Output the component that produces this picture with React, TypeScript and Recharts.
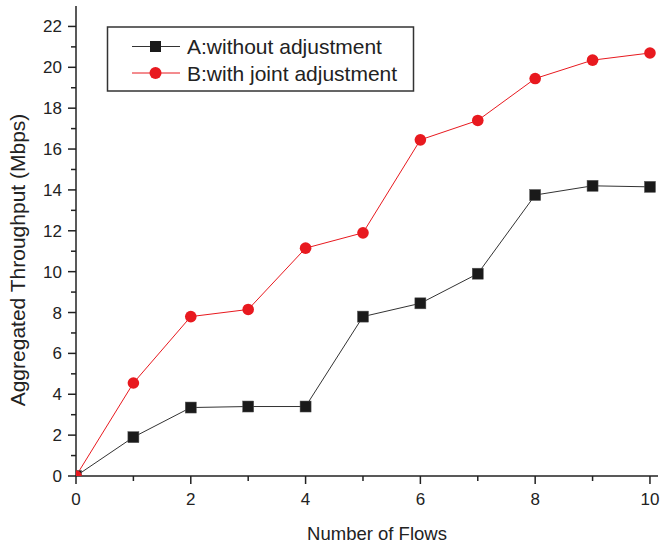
import { LineChart, Line, XAxis, YAxis } from "recharts";

const flows = [0, 1, 2, 3, 4, 5, 6, 7, 8, 9, 10];
const withoutAdj = [0, 1.9, 3.35, 3.4, 3.4, 7.8, 8.45, 9.9, 13.75, 14.2, 14.15];
const jointAdj = [0, 4.55, 7.8, 8.15, 11.15, 11.9, 16.45, 17.4, 19.45, 20.35, 20.7];
const xTicks = [0, 1, 2, 3, 4, 5, 6, 7, 8, 9, 10];
const yTicks = [0, 1, 2, 3, 4, 5, 6, 7, 8, 9, 10, 11, 12, 13, 14, 15, 16, 17, 18, 19, 20, 21, 22];
const seriesNames = ["A:without adjustment", "B:with joint adjustment"];

const data = flows.map((f, i) => ({ flows: f, a: withoutAdj[i], b: jointAdj[i] }));

const FONT = "'Liberation Sans', Arial, sans-serif";
const AXIS = "#222";
const RED = "#e8191f";
const BLACK_LINE = "#333";

function XTick(props: any) {
  const { x, y, payload } = props;
  const major = payload.value % 2 === 0;
  return (
    <g>
      <line x1={x} x2={x} y1={y} y2={y + (major ? 8 : 5)} stroke={AXIS} strokeWidth={1.5} />
      {major && (
        <text x={x} y={y + 29} textAnchor="middle" fontSize={17} fontFamily={FONT} fill={AXIS}>
          {payload.value}
        </text>
      )}
    </g>
  );
}

function YTick(props: any) {
  const { x, y, payload } = props;
  const major = payload.value % 2 === 0;
  return (
    <g>
      <line x1={x} x2={x - (major ? 8 : 5)} y1={y} y2={y} stroke={AXIS} strokeWidth={1.5} />
      {major && (
        <text x={x - 14} y={y + 6} textAnchor="end" fontSize={17} fontFamily={FONT} fill={AXIS}>
          {payload.value}
        </text>
      )}
    </g>
  );
}

function Square(props: any) {
  const { cx, cy, index } = props;
  return <rect key={"s" + index} x={cx - 5.5} y={cy - 5.5} width={11} height={11} fill="#1a1a1a" stroke="#555" strokeWidth={0.5} />;
}

function Circle(props: any) {
  const { cx, cy, index } = props;
  return <circle key={"c" + index} cx={cx} cy={cy} r={5.8} fill={RED} />;
}

function LegendBox() {
  return (
    <svg width={310} height={68} style={{ position: "absolute", left: 106, top: 25 }}>
      <rect x={1.5} y={2} width={306} height={64} fill="#fff" stroke="#333" strokeWidth={1.5} />
      {seriesNames.map((name, i) => {
        const cy = 21.5 + i * 26.5;
        return (
          <g key={name}>
            <line x1={26} x2={74} y1={cy} y2={cy} stroke={i === 0 ? BLACK_LINE : RED} strokeWidth={1} />
            {i === 0 ? (
              <rect x={44} y={cy - 5.5} width={11} height={11} fill="#1a1a1a" />
            ) : (
              <circle cx={49.5} cy={cy} r={6} fill={RED} />
            )}
            <text x={81} y={cy + 7.5} fontSize={21} fontFamily={FONT} fill={AXIS}>
              {name}
            </text>
          </g>
        );
      })}
    </svg>
  );
}

export default function App() {
  return (
    <div style={{ position: "absolute", left: 0, top: 0, width: 660, height: 546, background: "#fff" }}>
      <LineChart width={660} height={546} data={data} margin={{ top: 6, right: 2, bottom: 0, left: 0 }}>
        <XAxis
          dataKey="flows"
          type="number"
          domain={[0, 10.14]}
          ticks={xTicks}
          interval={0}
          tickSize={0}
          tickMargin={0}
          tickLine={false}
          tick={<XTick />}
          height={70}
          stroke={AXIS}
          strokeWidth={1.5}
          allowDataOverflow
          label={() => (
            <text x={377} y={540} textAnchor="middle" fontSize={18.5} fontFamily={FONT} fill={AXIS}>
              Number of Flows
            </text>
          )}
        />
        <YAxis
          type="number"
          domain={[0, 23]}
          ticks={yTicks}
          interval={0}
          tickSize={0}
          tickMargin={0}
          tickLine={false}
          tick={<YTick />}
          width={76}
          stroke={AXIS}
          strokeWidth={1.5}
          allowDataOverflow
          label={() => (
            <text x={25} y={260} transform="rotate(-90 25 260)" textAnchor="middle" fontSize={21} fontFamily={FONT} fill={AXIS}>
              Aggregated Throughput (Mbps)
            </text>
          )}
        />
        <Line dataKey="a" name={seriesNames[0]} stroke={BLACK_LINE} strokeWidth={1} dot={<Square />} isAnimationActive={false} />
        <Line dataKey="b" name={seriesNames[1]} stroke={RED} strokeWidth={1} dot={<Circle />} isAnimationActive={false} />
      </LineChart>
      <LegendBox />
    </div>
  );
}
